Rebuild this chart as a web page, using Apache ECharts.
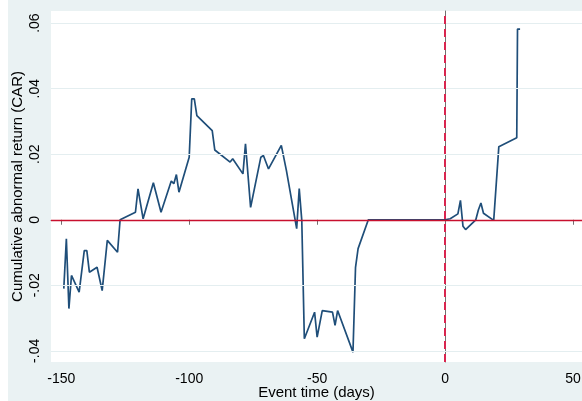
<!DOCTYPE html>
<html>
<head>
<meta charset="utf-8">
<script src="https://cdn.jsdelivr.net/npm/echarts@6/dist/echarts.min.js"></script>
<style>
  html, body { margin: 0; padding: 0; background: #ffffff; }
  #chart { position: absolute; left: 8px; top: 0; width: 574px; height: 401px; }
</style>
</head>
<body>
<div id="chart"></div>
<script>
// Event days (relative to announcement) and cumulative abnormal return
const days = [
  -149, -148, -147, -146, -143, -141, -140, -139, -136, -134, -132, -128, -127,
  -121, -120, -118, -114, -111, -107, -106, -105, -104, -100, -99, -98, -97,
  -91, -90, -84, -83, -79, -78, -76, -72, -71, -69, -64, -62, -58, -57, -56,
  -55, -51, -50, -48, -44, -43, -42, -36, -35, -34, -30, 0, 2, 5, 6, 7, 8,
  12, 13, 14, 15, 19, 21, 28, 28.3, 29.3
];
const car = [
  -0.021, -0.0058, -0.0271, -0.017, -0.0221, -0.0094, -0.0094, -0.016, -0.0145, -0.0216, -0.0063, -0.0099, 0.0,
  0.0023, 0.0094, 0.0003, 0.0113, 0.0023, 0.0118, 0.011, 0.0138, 0.0084, 0.0191, 0.0369, 0.0369, 0.0318,
  0.0272, 0.0213, 0.0176, 0.0186, 0.014, 0.0232, 0.0038, 0.0191, 0.0196, 0.0155, 0.0227, 0.015, -0.0027, 0.0095, -0.0002,
  -0.0363, -0.0282, -0.0358, -0.0277, -0.0282, -0.0322, -0.0277, -0.0404, -0.0145, -0.0088, 0.0, 0.0, 0.0003, 0.0018, 0.0059, -0.002, -0.003,
  0.0, 0.003, 0.0051, 0.002, -0.0002, 0.0223, 0.025, 0.0582, 0.0582
];

// Axis ticks and their labels
const xTicks = [-150, -100, -50, 0, 50];
const yTicks = [-0.04, -0.02, 0, 0.02, 0.04, 0.06];
const yTickLabels = ['-.04', '-.02', '0', '.02', '.04', '.06'];

const FONT = '"Liberation Sans", Arial, sans-serif';
const AXIS_GREY = '#707070';

const series = days.map((d, i) => [d, car[i]]);

const chart = echarts.init(document.getElementById('chart'), null, { renderer: 'canvas' });

chart.setOption({
  backgroundColor: '#eaf2f3',
  animation: false,
  grid: {
    left: 43, right: 0, top: 11, bottom: 39,
    containLabel: false,
    outerBoundsMode: 'none',
    show: true, backgroundColor: '#ffffff', borderWidth: 0
  },
  xAxis: {
    type: 'value',
    min: -154, max: 53.5,
    name: 'Event time (days)',
    nameLocation: 'middle',
    nameGap: 23,
    nameMoveOverlap: false,
    nameTextStyle: { fontFamily: FONT, fontSize: 15, color: '#000' },
    axisLine: { show: true, lineStyle: { color: AXIS_GREY, width: 1 } },
    axisTick: { show: true, length: 5, customValues: xTicks, lineStyle: { color: AXIS_GREY } },
    axisLabel: {
      customValues: xTicks, margin: 10,
      fontFamily: FONT, fontSize: 14, color: '#000'
    },
    splitLine: { show: false }
  },
  yAxis: {
    type: 'value',
    min: -0.0434, max: 0.0637,
    name: 'Cumulative abnormal return (CAR)',
    nameLocation: 'middle',
    nameGap: 26,
    nameRotate: 90,
    nameMoveOverlap: false,
    nameTextStyle: { fontFamily: FONT, fontSize: 15, color: '#000' },
    axisLine: { show: true, lineStyle: { color: AXIS_GREY, width: 1 } },
    axisTick: { show: true, length: 6, customValues: yTicks, lineStyle: { color: AXIS_GREY } },
    axisLabel: {
      customValues: yTicks, rotate: 90, margin: 9,
      fontFamily: FONT, fontSize: 14, color: '#000',
      formatter: v => {
        const i = yTicks.findIndex(t => Math.abs(t - v) < 1e-9);
        return i >= 0 ? yTickLabels[i] : '';
      }
    },
    splitLine: { show: false }
  },
  series: [
    {
      // horizontal grid lines at each y tick
      type: 'line',
      data: [],
      silent: true,
      markLine: {
        silent: true, symbol: 'none', label: { show: false },
        lineStyle: { color: '#e4eef0', width: 1.2, type: 'solid' },
        data: yTicks.filter(t => t !== 0).map(t => ({ yAxis: t }))
      }
    },
    {
      type: 'line',
      data: series,
      showSymbol: false,
      symbol: 'none',
      lineStyle: { color: '#1f4e79', width: 1.7 },
      z: 3
    },
    {
      // zero line and event-date marker
      type: 'line',
      data: [],
      silent: true,
      z: 4,
      markLine: {
        silent: true, symbol: 'none', label: { show: false },
        data: [
          { yAxis: 0, lineStyle: { color: '#c8102e', width: 1.3, type: 'solid' } },
          { xAxis: 0, lineStyle: { color: '#d9254f', width: 2, type: [8, 5] } }
        ]
      }
    }
  ]
});
</script>
</body>
</html>
